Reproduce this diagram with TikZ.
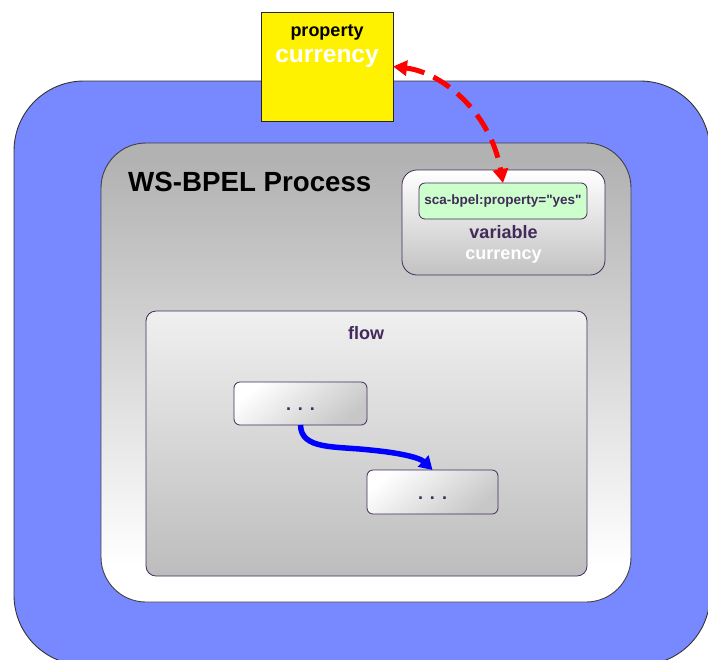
\documentclass[tikz,border=0pt]{standalone}
\usepackage{fontspec}
\setmainfont{Liberation Sans}[Ligatures=TeXOff]
\usetikzlibrary{arrows.meta}
\definecolor{bluebg}{RGB}{120,136,255}
\definecolor{purp}{RGB}{66,42,90}
\definecolor{greenfill}{RGB}{204,255,204}
\pgfdeclareverticalshading{procshade}{100bp}{color(0bp)=(white); color(29bp)=(white); color(73bp)=(black!30); color(100bp)=(black!30)}
\newcommand{\threedots}{.\hspace{7pt}.\hspace{7pt}.}
\begin{document}
\begin{tikzpicture}[x=1pt,y=-1pt,
  boxbase/.style={rectangle, inner sep=0pt, outer sep=0pt},
  outerbox/.style={boxbase, draw=black!80, line width=0.9pt, fill=bluebg, rounded corners=70pt, minimum width=696pt, minimum height=584pt},
  procbox/.style={boxbase, draw=black!75, line width=0.9pt, shade, shading=procshade, rounded corners=45pt, minimum width=530pt, minimum height=459pt},
  propbox/.style={boxbase, draw=black!85, line width=0.9pt, fill=yellow, minimum width=132pt, minimum height=109pt},
  softbox/.style={boxbase, draw=purp, line width=0.8pt, top color=white, bottom color=black!22, shading angle=40},
  greenbox/.style={boxbase, draw=purp, line width=0.8pt, fill=greenfill, rounded corners=6pt, minimum width=168pt, minimum height=36pt, font=\bfseries\fontsize{13.5}{15}\selectfont, text=purp},
  titletext/.style={font=\bfseries\fontsize{27.7}{30}\selectfont, text=black, inner sep=0pt},
  labeltext/.style={font=\bfseries\fontsize{18}{20}\selectfont, inner sep=0pt},
  dotstext/.style={font=\bfseries\fontsize{18}{20}\selectfont, text=purp, inner sep=0pt},
  redarrow/.style={draw=red, line width=5pt, dash pattern=on 19pt off 10pt, {Triangle[length=14pt,width=15pt]}-{Triangle[length=14pt,width=15pt]}},
  bluearrow/.style={draw=blue, line width=5.5pt, -{Triangle[length=13pt,width=15pt]}}
]
\useasboundingbox (0,0) rectangle (708,659);
\begin{scope}
  \clip (0,0) rectangle (708,659);
  \node[outerbox] (outer) at (362,373) {};
\end{scope}
\node[procbox] (proc) at (366,372.5) {};
\node[titletext, anchor=west] (title) at (128,182) {WS-BPEL Process};

\node[propbox] (yel) at (327,66.5) {};
\node[labeltext, text=black, font=\bfseries\fontsize{18}{20}\selectfont] (propl) at (327,32) {property};
\node[labeltext, text=white, font=\bfseries\fontsize{24.5}{26}\selectfont] (propc) at (327,58) {currency};

\node[softbox, rounded corners=15pt, minimum width=203pt, minimum height=105pt, bottom color=black!24] (var) at (503.5,222.5) {};
\node[greenbox] (green) at (503,201) {sca-bpel:property="yes"};
\node[labeltext, text=purp] (varl) at (503.5,232) {variable};
\node[labeltext, text=white] (varc) at (503.5,257) {currency};

\node[softbox, rounded corners=10pt, minimum width=441pt, minimum height=265pt, top color=black!6, bottom color=black!26] (flow) at (366.5,443.5) {};
\node[labeltext, text=purp] (flowl) at (366,333) {flow};

\node[softbox, rounded corners=6pt, minimum width=133pt, minimum height=43pt] (b1) at (300.5,403.5) {};
\node[dotstext] (d1) at (300.5,409) {\threedots};
\node[softbox, rounded corners=6pt, minimum width=131pt, minimum height=44pt] (b2) at (432.5,492) {};
\node[dotstext] (d2) at (432.5,498) {\threedots};

\draw[bluearrow] (b1.south) .. controls (301,450) and (335,446) .. (370,450) .. controls (402,453) and (420,458) .. (b2.north);
\draw[redarrow] (yel.east) .. controls (440,72) and (490,110) .. (green.north);
\end{tikzpicture}
\end{document}
